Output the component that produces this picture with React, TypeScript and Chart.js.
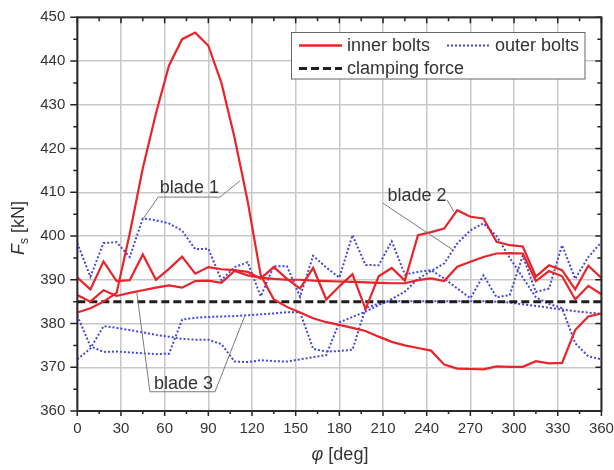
import React, { useEffect, useRef } from "react";
import { Chart, registerables } from "chart.js";

Chart.register(...registerables);

// ---------------- data ----------------
const ANGLES = [0, 9, 18, 27, 36, 45, 54, 63, 72, 81, 90, 99, 108, 117, 126, 135, 144, 153, 162, 171, 180, 189, 198, 207, 216, 225, 234, 243, 252, 261, 270, 279, 288, 297, 306, 315, 324, 333, 342, 351, 360];

const INNER_A = [382.5, 383.5, 385, 387, 400.5, 415.5, 428, 439, 445, 446.5, 443.5, 435, 422.5, 408, 391, 385.5, 383.8, 382.5, 381.2, 380.3, 379.7, 379, 378.3, 377, 375.8, 375, 374.4, 373.8, 370.6, 369.7, 369.6, 369.5, 370.2, 370.1, 370.1, 371.4, 370.9, 371, 378.5, 381.6, 382.3];
const INNER_B = [390.5, 387.8, 394.2, 389.7, 389.9, 395.8, 390, 392.5, 395.3, 391.4, 392.9, 392.4, 392.2, 391.8, 390.3, 392.9, 390.2, 388, 392.7, 385.5, 388.5, 391.3, 383.3, 390.8, 392.7, 389.8, 400.2, 400.9, 401.7, 405.9, 404.4, 404, 398.7, 397.9, 397.6, 390.7, 393.3, 392.2, 387.8, 393.2, 390.4];
const INNER_C = [386.5, 385, 387.6, 386.3, 387, 387.6, 388.2, 388.7, 388.2, 389.7, 389.8, 389.3, 392, 391, 390.5, 390.2, 390, 390, 389.8, 389.7, 389.6, 389.5, 389.4, 389.3, 389.2, 389.2, 389.9, 390.3, 389.7, 393, 394.1, 395.2, 396, 396.1, 396, 389.7, 392, 390.8, 385.5, 388.6, 386.7];

const OUTER_A = [398.4, 390.7, 398.4, 398.6, 395.2, 404, 403.6, 402.9, 401.2, 397, 397.1, 389.9, 392.9, 394, 386.2, 393.1, 393.1, 386.1, 395.5, 392.8, 390.5, 400.2, 393.4, 393.3, 398.8, 391.2, 391.8, 392.2, 390.3, 388, 385.8, 391, 386, 386.5, 395.5, 387.2, 388, 397.9, 390.2, 395.2, 398.6];
const OUTER_B = [371.8, 374.3, 379.4, 379, 378.5, 378, 377.4, 377, 376.5, 376.3, 376.3, 375.3, 371.3, 371.2, 371.6, 371.4, 371.3, 371.8, 372.3, 372.8, 380.3, 381.5, 382.7, 384.2, 385.6, 387.3, 390.2, 392, 393.7, 398.3, 401.3, 402.9, 400, 395, 390.5, 386, 384.5, 383.5, 375.5, 372.5, 371.8];
const OUTER_C = [381.8, 374.8, 373.5, 373.6, 373.4, 373.2, 373, 373.1, 380.9, 381.3, 381.5, 381.6, 381.7, 381.9, 382.1, 382.3, 382.6, 382.6, 374.2, 373.6, 373.7, 374, 383.5, 384.6, 385.1, 385.1, 385.1, 385.1, 385.1, 385.1, 385.1, 385.1, 385, 384.8, 384.4, 384, 383.6, 383.2, 382.8, 382.5, 382.2];

const CLAMP_ANGLES = [0, 360];
const CLAMP_FORCE = [385, 385];

const X_MIN = 0;
const X_MAX = 360;
const X_STEP = 30;
const Y_MIN = 360;
const Y_MAX = 450;
const Y_STEP = 10;

const LEGEND_LABELS = ["inner bolts", "outer bolts", "clamping force"];

// annotations (data coordinates)
const BLADE_LABELS = [
  { text: "blade 1", at: [56.7, 409.8], leaders: [[[45.3, 404], [55.6, 408.9], [98, 408.9], [111.7, 412.6]]] },
  { text: "blade 2", at: [213, 407.9], leaders: [[[210, 407.5], [258.2, 396.8]], [[254.2, 408.2], [258.5, 405.6]]] },
  { text: "blade 3", at: [52.7, 365], leaders: [[[40.8, 387.2], [49.9, 364.4], [94.6, 364.4], [115.2, 381.9]]] },
];

// ---------------- styles ----------------
const FONT = '"Liberation Sans", Arial, Helvetica, sans-serif';
const RED = "#e8232a";
const BLUE = "#4646dc";
const BLACK = "#1e1e1e";
const TEXT = "#333333";

const pts = (xs: number[], ys: number[]) => xs.map((x, i) => ({ x, y: ys[i] }));

const decorPlugin = {
  id: "decor",
  afterDraw(chart: any) {
    const { ctx, chartArea: a, scales } = chart;
    const xs = scales.x;
    const ys = scales.y;
    ctx.save();

    // tick marks
    ctx.strokeStyle = "#222";
    ctx.lineWidth = 1.5;
    ctx.beginPath();
    for (let d = X_MIN; d <= X_MAX; d += X_STEP / 2) {
      const px = xs.getPixelForValue(d);
      const major = d % X_STEP === 0;
      ctx.moveTo(px, a.bottom);
      ctx.lineTo(px, a.bottom + (major ? 5 : 3));
      ctx.moveTo(px, a.top);
      ctx.lineTo(px, a.top + (major ? 6 : 4));
    }
    for (let v = Y_MIN; v <= Y_MAX; v += Y_STEP / 2) {
      const py = ys.getPixelForValue(v);
      const major = v % Y_STEP === 0;
      ctx.moveTo(a.left, py);
      ctx.lineTo(a.left - (major ? 7 : 4), py);
      ctx.moveTo(a.right, py);
      ctx.lineTo(a.right - (major ? 6 : 4), py);
    }
    ctx.stroke();

    // frame
    ctx.lineWidth = 2;
    ctx.strokeStyle = "#2a2a2a";
    ctx.strokeRect(a.left, a.top, a.right - a.left, a.bottom - a.top);

    // blade annotations
    ctx.strokeStyle = "#7a7a7a";
    ctx.lineWidth = 1;
    ctx.fillStyle = TEXT;
    ctx.font = `18px ${FONT}`;
    ctx.textAlign = "left";
    ctx.textBaseline = "alphabetic";
    BLADE_LABELS.forEach((b) => {
      b.leaders.forEach((line) => {
        ctx.beginPath();
        line.forEach((p, i) => {
          const px = xs.getPixelForValue(p[0]);
          const py = ys.getPixelForValue(p[1]);
          if (i === 0) ctx.moveTo(px, py);
          else ctx.lineTo(px, py);
        });
        ctx.stroke();
      });
      ctx.fillText(b.text, xs.getPixelForValue(b.at[0]), ys.getPixelForValue(b.at[1]));
    });

    // legend
    const lx = 291.5, ly = 32.5, lw = 293.5, lh = 46.5;
    ctx.fillStyle = "#ffffff";
    ctx.fillRect(lx, ly, lw, lh);
    ctx.strokeStyle = "#666";
    ctx.lineWidth = 1;
    ctx.strokeRect(lx, ly, lw, lh);
    const row1 = ly + 13, row2 = ly + 36;
    const sample = (x0: number, x1: number, y: number, color: string, width: number, dash: number[]) => {
      ctx.beginPath();
      ctx.setLineDash(dash);
      ctx.strokeStyle = color;
      ctx.lineWidth = width;
      ctx.moveTo(x0, y);
      ctx.lineTo(x1, y);
      ctx.stroke();
      ctx.setLineDash([]);
    };
    sample(299, 342, row1, RED, 2.5, []);
    sample(447, 490, row1, BLUE, 2, [2, 2]);
    sample(299, 342, row2, BLACK, 3, [8, 4]);
    ctx.fillStyle = TEXT;
    ctx.font = `18px ${FONT}`;
    ctx.textBaseline = "middle";
    ctx.fillText(LEGEND_LABELS[0], 347, row1 + 1);
    ctx.fillText(LEGEND_LABELS[1], 495, row1 + 1);
    ctx.fillText(LEGEND_LABELS[2], 347, row2 + 1);

    // axis titles
    ctx.textBaseline = "alphabetic";
    // y title: F_s [kN]
    ctx.save();
    ctx.translate(24, 228);
    ctx.rotate(-Math.PI / 2);
    const fF = `italic 18px ${FONT}`;
    const fS = `12px ${FONT}`;
    const fR = `18px ${FONT}`;
    ctx.font = fF;
    const wF = ctx.measureText("F").width;
    ctx.font = fS;
    const wS = ctx.measureText("s").width;
    ctx.font = fR;
    const wR = ctx.measureText(" [kN]").width;
    const sx = -(wF + wS + wR) / 2;
    ctx.font = fF;
    ctx.fillText("F", sx, 0);
    ctx.font = fS;
    ctx.fillText("s", sx + wF, 4);
    ctx.font = fR;
    ctx.fillText(" [kN]", sx + wF + wS, 0);
    ctx.restore();

    // x title: φ [deg]
    ctx.font = fF;
    const wPhi = ctx.measureText("φ").width;
    ctx.font = fR;
    const wDeg = ctx.measureText(" [deg]").width;
    const cx = 340;
    const tx = cx - (wPhi + wDeg) / 2;
    ctx.font = fF;
    ctx.fillText("φ", tx, 460);
    ctx.font = fR;
    ctx.fillText(" [deg]", tx + wPhi, 460);

    ctx.restore();
  },
};

const noScalePadding = (s: any) => {
  s.paddingLeft = 0;
  s.paddingRight = 0;
  s.paddingTop = 0;
  s.paddingBottom = 0;
};

export default function App() {
  const ref = useRef<HTMLCanvasElement | null>(null);

  useEffect(() => {
    if (!ref.current) return;
    const line = (data: any, color: string, width: number, dash: number[]) => ({
      data,
      borderColor: color,
      backgroundColor: color,
      borderWidth: width,
      borderDash: dash,
      pointRadius: 0,
      fill: false,
      tension: 0,
    });
    const chart = new Chart(ref.current, {
      type: "line",
      data: {
        datasets: [
          line(pts(ANGLES, INNER_A), RED, 2.2, []),
          line(pts(ANGLES, INNER_B), RED, 2.2, []),
          line(pts(ANGLES, INNER_C), RED, 2.2, []),
          line(pts(CLAMP_ANGLES, CLAMP_FORCE), BLACK, 3, [8, 4]),
          line(pts(ANGLES, OUTER_A), BLUE, 2, [2, 2]),
          line(pts(ANGLES, OUTER_B), BLUE, 2, [2, 2]),
          line(pts(ANGLES, OUTER_C), BLUE, 2, [2, 2]),
        ] as any,
      },
      options: {
        responsive: false,
        animation: false,
        devicePixelRatio: 1,
        layout: { padding: { left: 0, right: 12.6, top: 17.3, bottom: 0 } },
        plugins: { legend: { display: false }, tooltip: { enabled: false } },
        scales: {
          x: {
            type: "linear",
            min: X_MIN,
            max: X_MAX,
            ticks: { stepSize: X_STEP, color: TEXT, font: { family: FONT, size: 15 }, padding: 9, maxRotation: 0, autoSkip: false },
            grid: { color: "#c8c8c8", lineWidth: 1.5, drawTicks: false },
            border: { display: false },
            afterFit: (s: any) => { s.height = 59; noScalePadding(s); },
          },
          y: {
            type: "linear",
            min: Y_MIN,
            max: Y_MAX,
            ticks: { stepSize: Y_STEP, color: TEXT, font: { family: FONT, size: 15 }, padding: 12, autoSkip: false },
            grid: { color: "#c8c8c8", lineWidth: 1.5, drawTicks: false },
            border: { display: false },
            afterFit: (s: any) => { s.width = 77.3; noScalePadding(s); },
          },
        },
      } as any,
      plugins: [decorPlugin],
    });
    return () => chart.destroy();
  }, []);

  return (
    <div style={{ position: "fixed", left: 0, top: 0, width: 614, height: 470, background: "#fff" }}>
      <canvas ref={ref} width={614} height={470} style={{ display: "block" }} />
    </div>
  );
}
